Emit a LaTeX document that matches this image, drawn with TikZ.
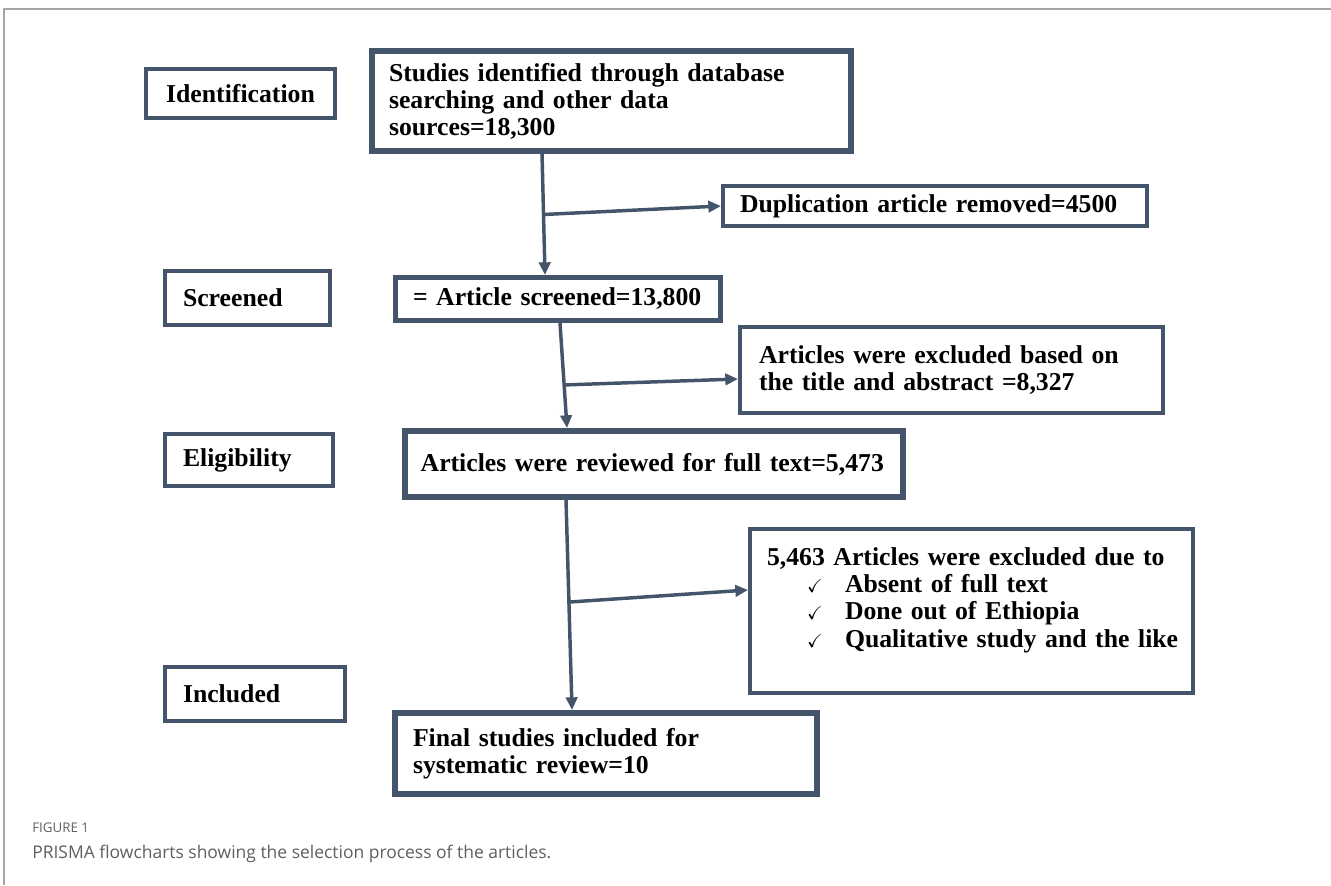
\documentclass[tikz,border=0pt]{standalone}
\usepackage{fontspec}
\usepackage{amssymb}
\setmainfont{Liberation Serif}
\newfontfamily\capfont{Open Sans}
\usetikzlibrary{arrows.meta,calc}
\definecolor{boxblue}{HTML}{44546A}
\definecolor{framegray}{HTML}{A6A6A6}
\definecolor{capgray}{HTML}{5F5F5F}
\newcommand{\tickitem}[1]{\hspace*{30pt}\makebox[28.5pt][l]{\fontsize{14}{14}\selectfont$\checkmark$}\mbox{#1}}
\begin{document}
\begin{tikzpicture}[x=0.75pt,y=-0.75pt,
    box/.style={draw=boxblue,line width=3pt,align=left,inner ysep=0pt,
      font=\bfseries\fontsize{19.3}{20.3}\selectfont},
    flow/.style={boxblue,line width=2.6pt,-{Triangle[length=9.5pt,width=8.5pt]}},
    captext/.style={anchor=west,inner sep=0pt,text=capgray}]
  \useasboundingbox (0,0) rectangle (1331,885);
  \draw[framegray,line width=1.5pt] (1331,9) -- (4,9) -- (4,885);

  \node[box,align=center,minimum width=141.75pt,minimum height=36.75pt] (lblident) at (240.5,93.5) {Identification};
  \node[box,text width=96.75pt,inner xsep=13.5pt,minimum height=40.5pt] (lblscreen) at (247.5,298) {Screened};
  \node[box,text width=99pt,inner xsep=13.5pt,minimum height=39pt] (lblelig) at (249,460) {Eligibility};
  \node[box,text width=108pt,inner xsep=13.5pt,minimum height=40.5pt] (lblincl) at (255,694) {Included};

  \node[box,line width=4.5pt,text width=333.75pt,inner xsep=12.75pt,minimum height=75pt] (search) at (611.5,101)
    {Studies identified through database\\searching and other data\\sources=18,300};
  \node[box,text width=292.5pt,inner xsep=12.75pt,minimum height=30pt] (dup) at (935,206)
    {Duplication article removed=4500};
  \node[box,line width=3.75pt,text width=217.5pt,inner xsep=13.125pt,minimum height=32.25pt] (screened) at (558,299)
    {= Article screened=13,800};
  \node[box,text width=288.75pt,inner xsep=14.25pt,minimum height=64.5pt] (excl1) at (951.5,370)
    {Articles were excluded based on\\the title and abstract =8,327};
  \node[box,line width=4.5pt,text width=350pt,inner xsep=11.75pt,minimum height=49.5pt] (review) at (654,464)
    {Articles were reviewed for full text=5,473};
  \node[box,text width=306.75pt,inner xsep=12.75pt,minimum height=123pt] (excl2) at (971.5,611)
    {5,463 Articles were excluded due to\\
     \tickitem{Absent of full text}\\
     \tickitem{Done out of Ethiopia}\\
     \tickitem{Qualitative study and the like}\\
     \mbox{}};
  \node[box,line width=4.5pt,text width=289.5pt,inner xsep=13.5pt,minimum height=60.75pt] (final) at (606,753.5)
    {Final studies included for\\systematic review=10};

  \coordinate (a1) at ([xshift=-52.1pt]search.south);
  \coordinate (b1) at ([xshift=-9.75pt]screened.north);
  \coordinate (j1) at ($(a1)!0.5!(b1)$);
  \coordinate (a2) at ([xshift=1.5pt]screened.south);
  \coordinate (b2) at ([xshift=-65.25pt]review.north);
  \coordinate (j2) at ($(a2)!0.59!(b2)$);
  \coordinate (a3) at ([xshift=-66pt]review.south);
  \coordinate (b3) at ([xshift=-25.5pt]final.north);
  \coordinate (j3) at ($(a3)!0.486!(b3)$);
  \begin{scope}[flow]
    \draw (a1) to (b1);
    \draw (j1) to (dup.west);
    \draw (a2) to (b2);
    \draw (j2) to ([yshift=-6.75pt]excl1.west);
    \draw (a3) to (b3);
    \draw (j3) to ([yshift=15.75pt]excl2.west);
  \end{scope}

  \node[captext,font=\capfont\fontsize{10}{12}\selectfont] (figlabel) at (32,828) {FIGURE 1};
  \node[captext,font=\capfont\fontsize{13.1}{15}\selectfont] (caption) at (32,854)
    {PRISMA flowcharts showing the selection process of the articles.};
\end{tikzpicture}
\end{document}
